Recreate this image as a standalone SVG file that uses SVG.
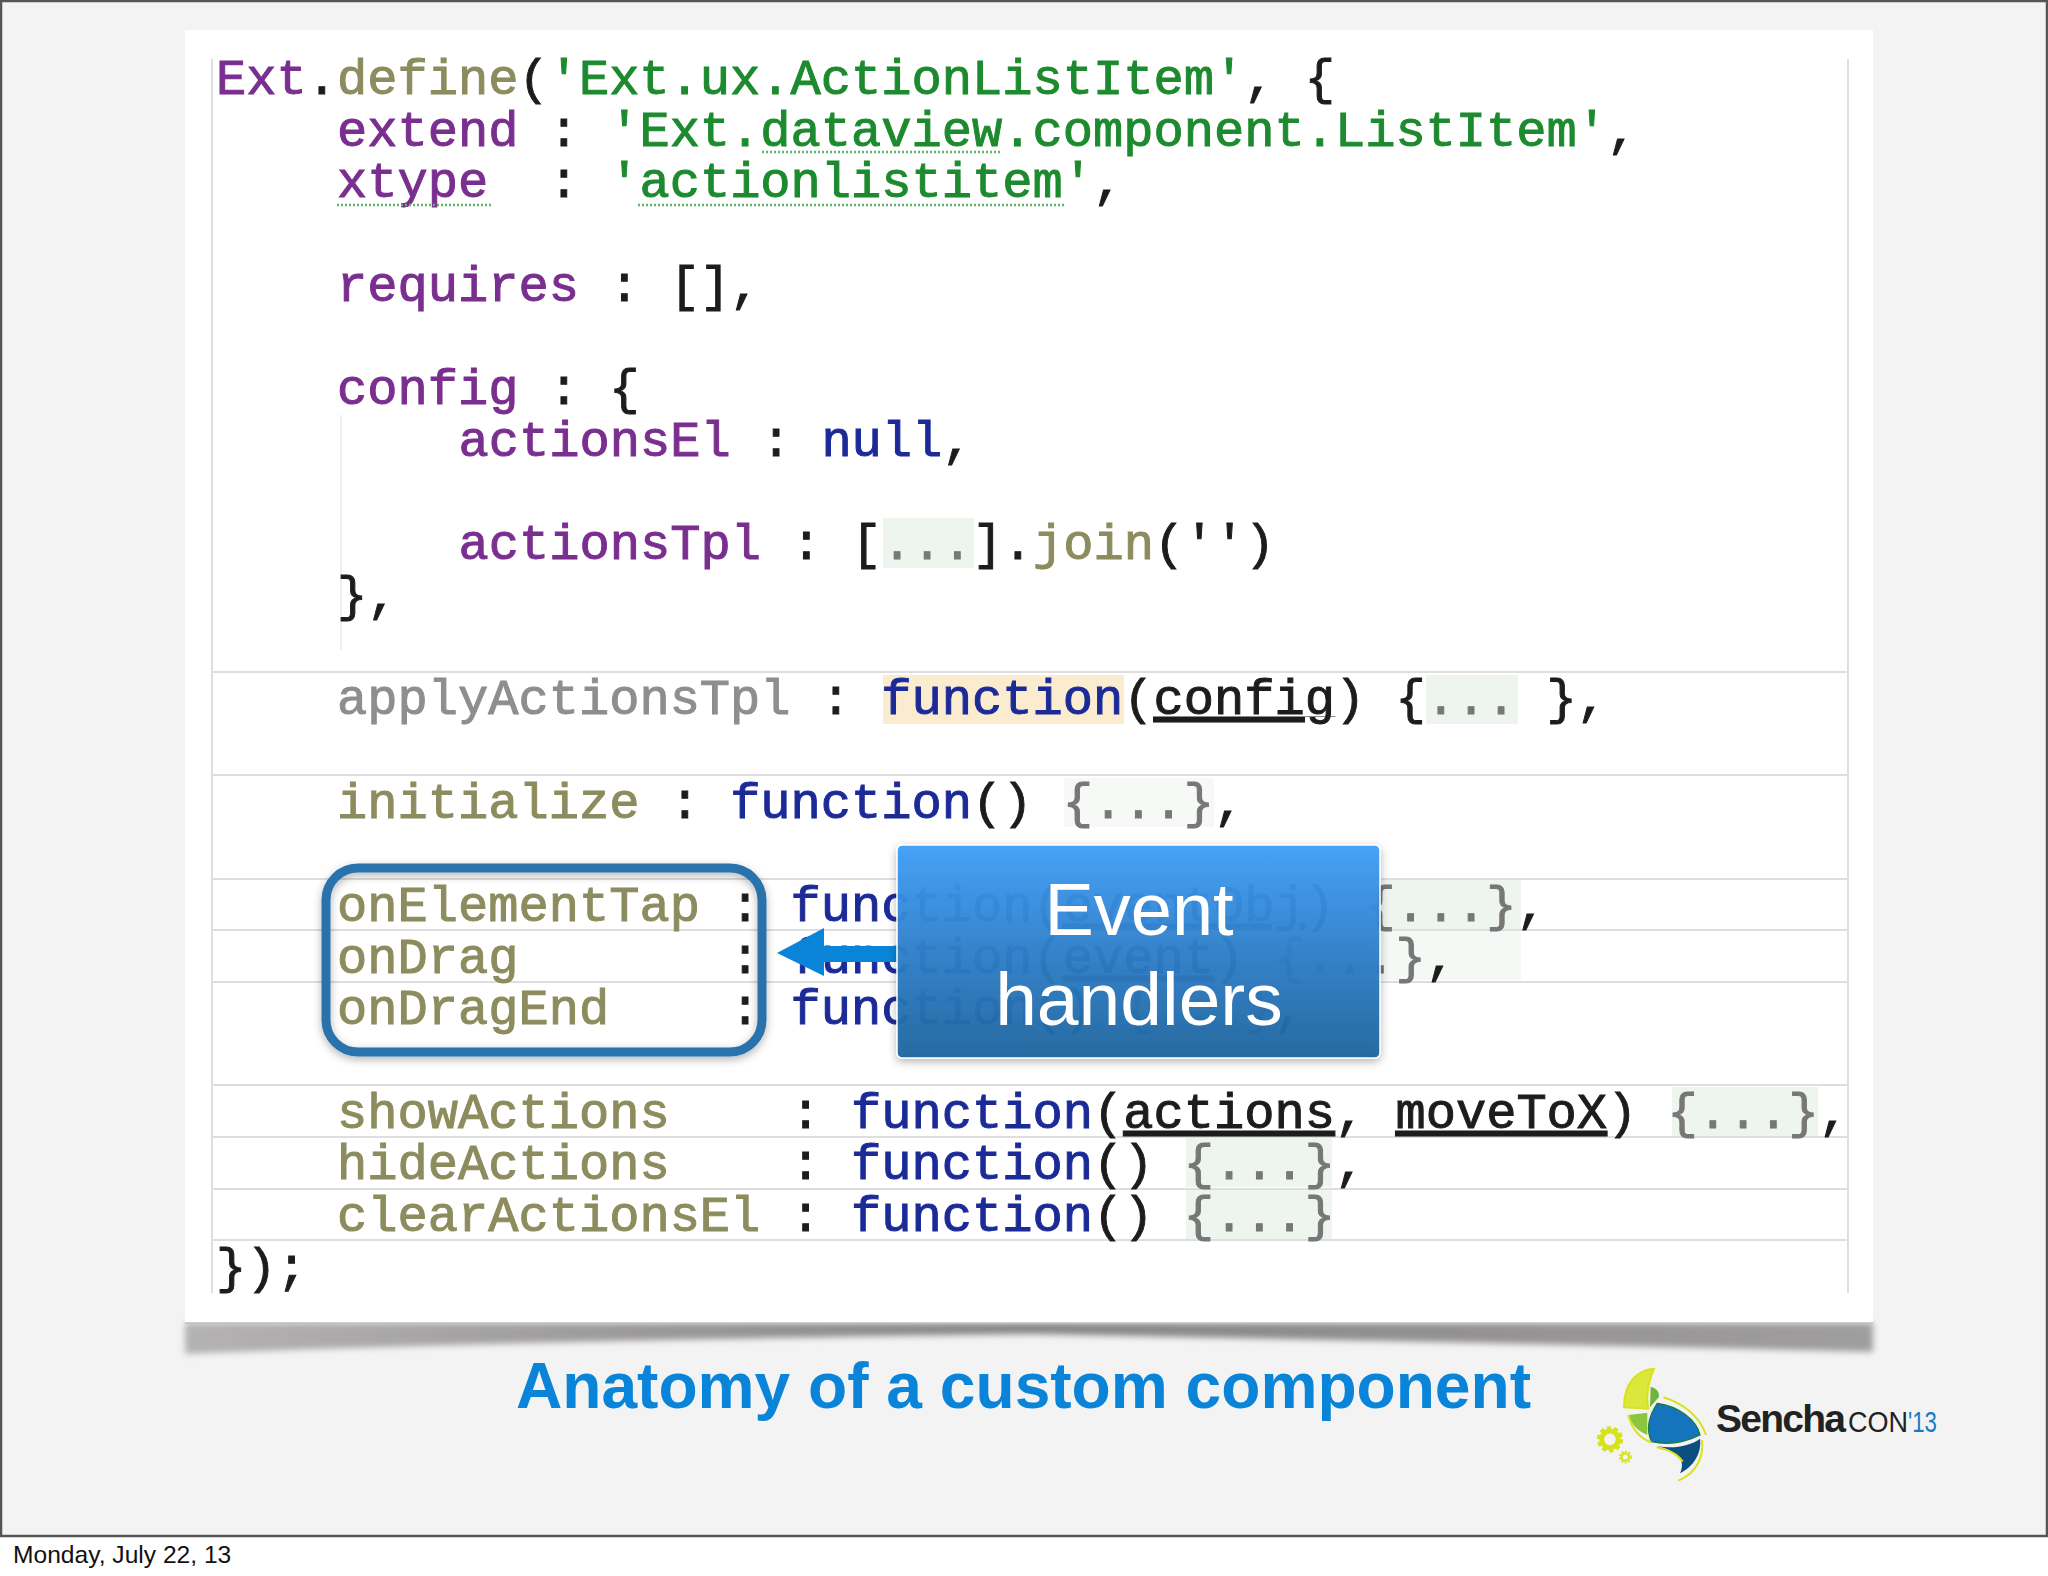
<svg xmlns="http://www.w3.org/2000/svg" width="2048" height="1576" viewBox="0 0 2048 1576">
<style>
.c{font-family:"Liberation Mono","DejaVu Sans Mono",monospace;font-size:50.4px;white-space:pre;stroke-width:1px;filter:url(#soft)}
.k{fill:#7a2f8f;stroke:#7a2f8f}.o{fill:#8c8c5e;stroke:#8c8c5e}.g{fill:#1f8a2e;stroke:#1f8a2e}.n{fill:#1c2c98;stroke:#1c2c98}.b{fill:#1c1c1c;stroke:#1c1c1c}.y{fill:#8e8e8e;stroke:#8e8e8e}.d{fill:#777;stroke:#777}
.u{text-decoration:underline}
.s{stroke:#dedede;stroke-width:2;fill:none}
.sans{font-family:"Liberation Sans",Arial,sans-serif}
.w{fill:none;stroke:#5fb56a;stroke-width:2.5;stroke-dasharray:2 2}
.lime{fill:none;stroke:#d6e31c;stroke-width:6;stroke-linejoin:round}
</style>
<defs>
<filter id="soft" x="-2%" y="-20%" width="104%" height="140%"><feGaussianBlur stdDeviation="0.7"/></filter>
<filter id="shb" x="-5%" y="-50%" width="110%" height="200%"><feGaussianBlur stdDeviation="3"/></filter>
<filter id="ds" x="-10%" y="-10%" width="120%" height="120%"><feDropShadow dx="0" dy="3" stdDeviation="4" flood-color="#000" flood-opacity=".3"/></filter>
<linearGradient id="bx" x1="0" y1="0" x2="0" y2="1"><stop offset="0" stop-color="#3f9ff8"/><stop offset=".5" stop-color="#2f7fca"/><stop offset="1" stop-color="#1f669f"/></linearGradient>
<linearGradient id="shg" x1="0" y1="0" x2="1" y2="0"><stop offset="0" stop-color="#b4b2b3"/><stop offset=".5" stop-color="#868486"/><stop offset="1" stop-color="#a09e9f"/></linearGradient>
</defs>
<rect width="2048" height="1576" fill="#fff"/>
<g id="slide">
<rect x="1" y="1" width="2046" height="1535" fill="#f4f3f3" stroke="#555" stroke-width="2.5"/>
</g>
<g id="panel">
<path d="M185 1323H1873V1352Q1500 1343 1030 1334Q500 1341 185 1354Z" fill="url(#shg)" filter="url(#shb)"/>
<rect x="185" y="30" width="1688" height="1293" fill="#fff"/>
<path d="M185 1323H1873" stroke="#bdbdbd" stroke-width="1.5"/>
</g>
<g id="code-background">
<path class="s" d="M212 59V1293M1848 59V1293"/>
<path d="M212 672H1848M212 775H1848M212 879H1848M212 930H1848M212 982H1848M212 1085H1848M212 1137H1848M212 1189H1848M212 1240H1848" class="s"/>
<path d="M341 415V650" stroke="#f1f1f1" stroke-width="2"/>
<rect x="883" y="518" width="91" height="50" fill="#eef4ee"/>
<rect x="883" y="675" width="241" height="49" fill="#fbeccf"/>
<rect x="1426" y="675" width="92" height="49" fill="#eef5ee"/>
<rect x="1064" y="778" width="150" height="49" fill="#f6f9f5"/>
<rect x="1378" y="880" width="143" height="49" fill="#eef5ee"/>
<rect x="1378" y="931" width="143" height="49" fill="#f5f9f5"/>
<rect x="1672" y="1087" width="146" height="49" fill="#eef5ee"/>
<rect x="1186" y="1138" width="146" height="49" fill="#eef5ee"/>
<rect x="1186" y="1190" width="146" height="49" fill="#eef5ee"/>
</g>
<g id="code">
<text class="c" x="216" y="94"><tspan class="k">Ext</tspan><tspan class="b">.</tspan><tspan class="o">define</tspan><tspan class="b">(</tspan><tspan class="g">'Ext.ux.ActionListItem'</tspan><tspan class="b">, {</tspan></text>
<text class="c" x="337" y="146"><tspan class="k">extend</tspan><tspan class="b"> : </tspan><tspan class="g">'Ext.dataview.component.ListItem'</tspan><tspan class="b">,</tspan></text>
<text class="c" x="337" y="197"><tspan class="k">xtype</tspan><tspan class="b">  : </tspan><tspan class="g">'actionlistitem'</tspan><tspan class="b">,</tspan></text>
<text class="c" x="337" y="301"><tspan class="k">requires</tspan><tspan class="b"> : [],</tspan></text>
<text class="c" x="337" y="404"><tspan class="k">config</tspan><tspan class="b"> : {</tspan></text>
<text class="c" x="458.500" y="456"><tspan class="k">actionsEl</tspan><tspan class="b"> : </tspan><tspan class="n">null</tspan><tspan class="b">,</tspan></text>
<text class="c" x="458.500" y="559"><tspan class="k">actionsTpl</tspan><tspan class="b"> : [</tspan><tspan class="d">...</tspan><tspan class="b">].</tspan><tspan class="o">join</tspan><tspan class="b">('')</tspan></text>
<text class="c" x="337" y="611"><tspan class="b">},</tspan></text>
<text class="c" x="337" y="714"><tspan class="y">applyActionsTpl</tspan><tspan class="b"> : </tspan><tspan class="n">function</tspan><tspan class="b">(</tspan><tspan class="b u">config</tspan><tspan class="b">) {</tspan><tspan class="d">...</tspan><tspan class="b"> },</tspan></text>
<text class="c" x="337" y="818"><tspan class="o">initialize</tspan><tspan class="b"> : </tspan><tspan class="n">function</tspan><tspan class="b">() </tspan><tspan class="d">{...}</tspan><tspan class="b">,</tspan></text>
<text class="c" x="337" y="921"><tspan class="o">onElementTap</tspan><tspan class="b"> : </tspan><tspan class="n">function</tspan><tspan class="b">(</tspan><tspan class="b u">eventObj</tspan><tspan class="b">) </tspan><tspan class="d">{...}</tspan><tspan class="b">,</tspan></text>
<text class="c" x="337" y="973"><tspan class="o">onDrag      </tspan><tspan class="b"> : </tspan><tspan class="n">function</tspan><tspan class="b">(</tspan><tspan class="b u">event</tspan><tspan class="b">) </tspan><tspan class="d">{...}</tspan><tspan class="b">,</tspan></text>
<text class="c" x="337" y="1024"><tspan class="o">onDragEnd   </tspan><tspan class="b"> : </tspan><tspan class="n">function</tspan><tspan class="b">() </tspan><tspan class="d">{...}</tspan><tspan class="b">,</tspan></text>
<text class="c" x="337" y="1128"><tspan class="o">showActions   </tspan><tspan class="b"> : </tspan><tspan class="n">function</tspan><tspan class="b">(</tspan><tspan class="b u">actions</tspan><tspan class="b">, </tspan><tspan class="b u">moveToX</tspan><tspan class="b">) </tspan><tspan class="d">{...}</tspan><tspan class="b">,</tspan></text>
<text class="c" x="337" y="1179"><tspan class="o">hideActions   </tspan><tspan class="b"> : </tspan><tspan class="n">function</tspan><tspan class="b">() </tspan><tspan class="d">{...}</tspan><tspan class="b">,</tspan></text>
<text class="c" x="337" y="1231"><tspan class="o">clearActionsEl</tspan><tspan class="b"> : </tspan><tspan class="n">function</tspan><tspan class="b">() </tspan><tspan class="d">{...}</tspan></text>
<text class="c" x="216" y="1283"><tspan class="b">});</tspan></text>
<path class="w" d="M762 152H1001M337 205H493M638 205H1066"/>
</g>
<g id="highlight-box">
<rect x="326" y="868" width="436" height="184" rx="32" fill="none" stroke="#2b72ab" stroke-width="9" filter="url(#ds)"/>
</g>
<g id="connectors">
<path d="M897 946H824V928L777 953L824 976V962H897Z" fill="#0a84d8"/>
</g>
<g id="event-handlers">
<rect x="897" y="845" width="483" height="213" rx="5" fill="url(#bx)" fill-opacity=".95" stroke="#fff" stroke-width="1.5" filter="url(#ds)"/>
<text class="sans" x="1139" y="935" font-size="74" text-anchor="middle" fill="#fff">Event</text>
<text class="sans" x="1139" y="1025" font-size="75" text-anchor="middle" fill="#fff">handlers</text>
</g>
<g id="title">
<text class="sans" x="516" y="1408" font-size="64" font-weight="700" fill="#0a84d8" textLength="1015" lengthAdjust="spacingAndGlyphs">Anatomy of a custom component</text>
</g>
<g id="logo">
<g transform="translate(1550 1320) scale(.3333)">
<path d="M312 146C260 150 222 190 222 262L295 266C285 220 298 180 312 146Z" fill="#dbe73a"/>
<path d="M312 146C260 150 222 190 222 262L295 266C285 220 298 180 312 146Z" class="lime"/>
<path d="M235 285L292 278V345C265 335 245 315 235 285Z" fill="#8cc63f"/>
<path d="M302 200C322 205 330 220 326 232L300 262Z" fill="#6fb53a"/>
<path d="M322 250C385 258 440 300 450 345C400 370 350 375 305 365C288 330 295 290 322 250Z" fill="#1475bc" stroke="#1b7a3e" stroke-width="4"/>
<path d="M320 378C370 388 420 378 450 356C456 400 430 440 390 460C410 420 380 392 320 378Z" fill="#0a4f80"/>
<path d="M340 232C400 250 450 290 468 345M456 360C462 410 440 460 385 482M235 285C245 325 270 355 305 368M320 382C360 390 385 405 398 425" class="lime"/>
<circle cx="180" cy="358" r="25" fill="none" stroke="#d6e31c" stroke-width="15"/>
<circle cx="180" cy="358" r="35" fill="none" stroke="#d6e31c" stroke-width="9" stroke-dasharray="13 9"/>
<circle cx="226" cy="411" r="11" fill="none" stroke="#d6e31c" stroke-width="7"/>
<circle cx="226" cy="411" r="17" fill="none" stroke="#d6e31c" stroke-width="5" stroke-dasharray="6 5"/>
</g>
<text class="sans" x="1716" y="1432" font-size="39" font-weight="700" fill="#222" textLength="130" lengthAdjust="spacing">Sencha</text>
<text class="sans" x="1848" y="1432" font-size="29" fill="#222" textLength="60" lengthAdjust="spacingAndGlyphs">CON</text>
<text class="sans" x="1908" y="1432" font-size="29" fill="#1a7cc4" textLength="29" lengthAdjust="spacingAndGlyphs">'13</text>
</g>
<g id="date">
<text class="sans" x="13" y="1563" font-size="24.6" fill="#111">Monday, July 22, 13</text>
</g>
</svg>
